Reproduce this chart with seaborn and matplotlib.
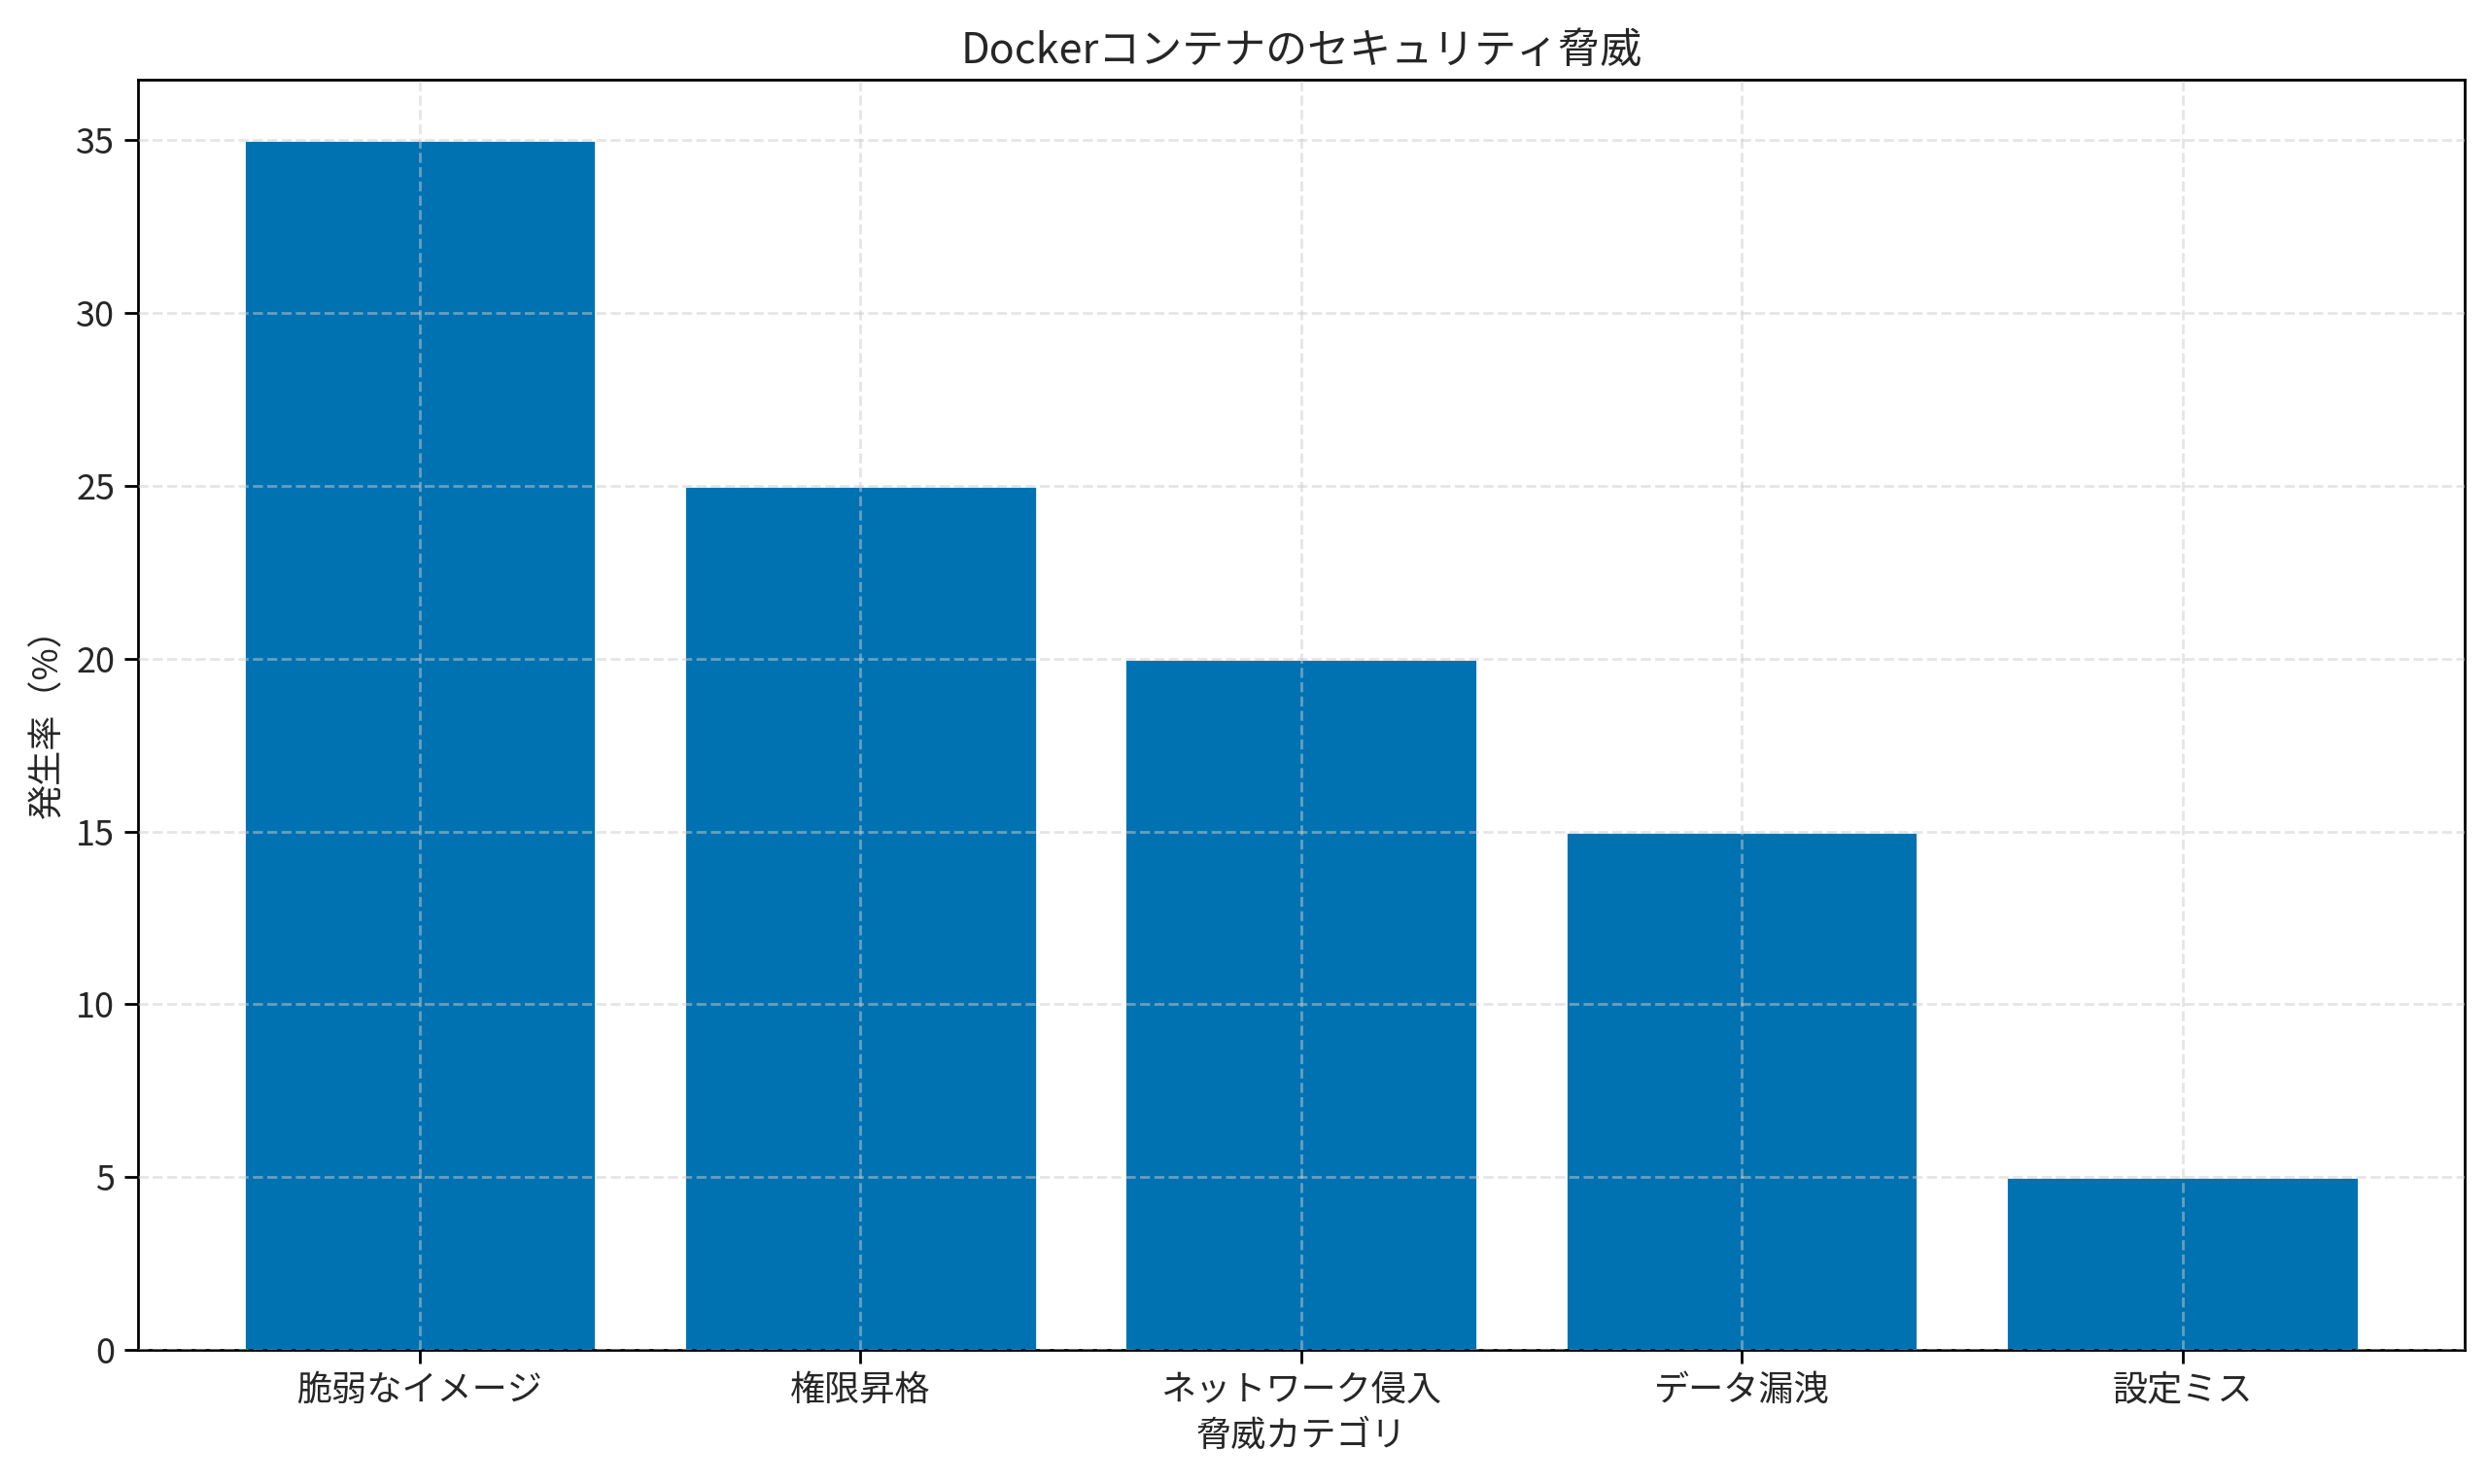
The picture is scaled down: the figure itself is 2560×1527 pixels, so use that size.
import pandas as pd
import seaborn as sns
import matplotlib.pyplot as plt

sns.set_theme(style="white")
plt.rcParams['font.family'] = ['Noto Sans CJK JP', 'DejaVu Sans']

# data
categories = ["脆弱なイメージ", "権限昇格", "ネットワーク侵入", "データ漏洩", "設定ミス"]
rates = [35, 25, 20, 15, 5]

df = pd.DataFrame({"カテゴリ": categories, "発生率": rates})

fig, ax = plt.subplots(figsize=(12.8, 7.635), dpi=200)
sns.barplot(data=df, x="カテゴリ", y="発生率", color="#0072B2", saturation=1,
            width=0.8, ax=ax)

# matplotlib-like default margins
ax.set_xlim(-0.64, len(categories) - 1 + 0.64)

ax.set_title("Dockerコンテナのセキュリティ脅威", fontsize=15.5)
ax.set_xlabel("脅威カテゴリ", fontsize=13)
ax.set_ylabel("発生率（%）", fontsize=13)
ax.tick_params(axis="both", labelsize=13, length=5, width=1, bottom=True, left=True, color="black")
for s in ax.spines.values():
    s.set_color("black")
    s.set_linewidth(1)
ax.grid(True, linestyle="--", alpha=0.5, color="#cccccc")
ax.set_axisbelow(False)

fig.subplots_adjust(left=0.0554, right=0.9905, top=0.9463, bottom=0.0904)
fig.savefig("out.png", dpi=200)
